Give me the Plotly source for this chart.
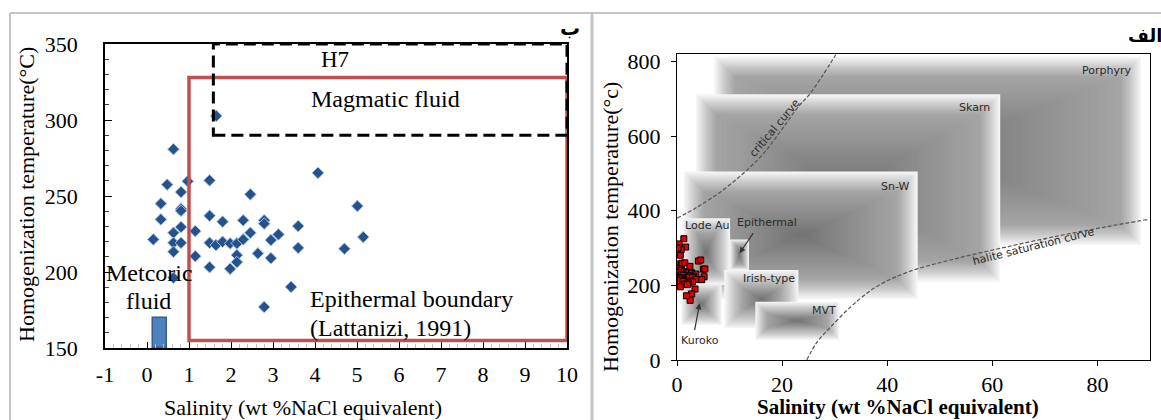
import plotly.graph_objects as go

W, H = 1161, 420

# ---------------- Left panel data (fluid inclusions, panel "ب") ----------------
salinity = [1.65, 0.63, 0.48, 0.81, 0.97, 1.49, 4.07, 2.46, 0.33, 0.81, 0.81, 5.01,
            0.33, 1.49, 1.80, 2.29, 2.79, 2.79, 0.63, 0.81, 1.15, 2.46, 3.60, 3.13,
            0.15, 0.63, 0.81, 1.49, 1.64, 1.80, 1.98, 2.14, 2.29, 2.95, 5.15, 0.63,
            3.60, 4.70, 2.64, 2.14, 1.15, 2.95, 2.14, 1.49, 1.98, 0.63, 3.43, 2.79]
temperature = [302.7, 280.8, 257.5, 252.6, 259.7, 260.3, 265.2, 251.1, 245.0, 241.6, 240.3, 243.4,
               234.6, 237.0, 233.1, 234.0, 234.0, 231.8, 225.8, 229.6, 226.9, 225.8, 230.2, 224.7,
               221.4, 219.2, 219.2, 219.2, 217.7, 219.9, 218.8, 218.8, 221.4, 221.0, 223.0, 213.3,
               215.9, 215.3, 212.2, 211.1, 210.4, 209.1, 206.5, 203.2, 202.1, 196.2, 190.2, 177.0]

meteoric_salinity = [0.15, 0.47]
meteoric_temp_top = 170
epithermal_box = dict(sal=[1.0, 10.0], temp=[155, 328])
magmatic_box = dict(sal=[1.58, 10.0], temp=[290, 350])

left_x_ticks = [-1, 0, 1, 2, 3, 4, 5, 6, 7, 8, 9, 10]
left_y_ticks = [150, 200, 250, 300, 350]

# ---------------- Right panel data (panel "الف") ----------------
deposit_names = ["Porphyry", "Skarn", "Sn-W", "Lode Au", "Epithermal", "Kuroko", "Irish-type", "MVT"]
deposit_sal = [[7.1, 88.3], [3.6, 61.5], [1.3, 45.8], [1.0, 10.1], [10.1, 13.7], [0.8, 8.5], [9.0, 23.1], [14.9, 30.9]]
deposit_temp = [[308, 813], [210, 712], [163, 505], [201, 380], [241, 323], [94, 206], [85, 241], [54, 156]]
deposit_label_pos = [[81.7, 776], [56.7, 676], [41.5, 466], [5.7, 360], [17.2, 368], [4.3, 51], [17.5, 219], [27.9, 132]]

critical_sal = [0, 4.0, 8.8, 13.0, 16.5, 19.9, 23.1, 25.1, 27.6, 30.2]
critical_temp = [380, 411, 456, 505, 554, 617, 679, 710, 760, 818]
halite_sal = [24.7, 26.5, 29.0, 33.1, 38.0, 44.2, 52.6, 63.0, 73.4, 81.7, 89.7]
halite_temp = [0, 45, 85, 143, 197, 237, 270, 304, 335, 357, 377]

extra_sal = [1.3, 0.4, 0.8, 4.5, 5.3, 2.5, 1.8, 0.2]
extra_temp = [325, 311, 296, 268, 244, 160, 172, 300]

right_x_ticks = [0, 20, 40, 60, 80]
right_y_ticks = [0, 200, 400, 600, 800]

# ---------------- layout geometry ----------------
L_X = [105 / W, 567 / W]
L_Y = [1 - 348 / H, 1 - 44 / H]
R_X = [677 / W, 1150 / W]
R_Y = [1 - 360 / H, 1 - 54 / H]
R_XR = [0, 90]
R_YR = [0, 820]

serif = "Liberation Serif"

fig = go.Figure()

# left panel traces
fig.add_trace(go.Bar(
    x=[(meteoric_salinity[0] + meteoric_salinity[1]) / 2], y=[meteoric_temp_top - 150], base=150,
    width=meteoric_salinity[1] - meteoric_salinity[0],
    marker=dict(color="#4f81bd", line=dict(color="#385d8a", width=1.5)),
    xaxis="x", yaxis="y", showlegend=False, hoverinfo="skip"))
fig.add_trace(go.Scatter(
    x=salinity, y=temperature, mode="markers", xaxis="x", yaxis="y",
    marker=dict(symbol="diamond", size=9, color="#24528f", line=dict(color="#a9c1e0", width=1)),
    showlegend=False))

# right panel traces
fig.add_trace(go.Scatter(x=critical_sal, y=critical_temp, mode="lines", xaxis="x2", yaxis="y2",
                         line=dict(color="#555555", width=1.2, dash="4px,2px", shape="spline"),
                         showlegend=False, hoverinfo="skip"))
fig.add_trace(go.Scatter(x=halite_sal, y=halite_temp, mode="lines", xaxis="x2", yaxis="y2",
                         line=dict(color="#555555", width=1.2, dash="4px,2px", shape="spline"),
                         showlegend=False, hoverinfo="skip"))
fig.add_trace(go.Scatter(
    x=salinity + extra_sal, y=temperature + extra_temp, mode="markers", xaxis="x2", yaxis="y2",
    marker=dict(symbol="square", size=6, color="#e00000", line=dict(color="black", width=1)),
    showlegend=False))

shapes = []

# soft gradient boxes (right panel): quick ramp at the edges, soft dark blob inside
px_x = (R_X[1] - R_X[0]) * W / (R_XR[1] - R_XR[0])
px_y = (R_Y[1] - R_Y[0]) * H / (R_YR[1] - R_YR[0])
M, K = 18, 24
for (x0, x1), (y0, y1) in zip(deposit_sal, deposit_temp):
    shapes.append(dict(type="rect", xref="x2", yref="y2", x0=x0, x1=x1, y0=y0, y1=y1,
                       fillcolor="#f5f5f5", line=dict(width=0), layer="below"))
    wpx = (x1 - x0) * px_x
    hpx = (y1 - y0) * px_y
    ramp = min(20.0, 0.3 * min(wpx, hpx))
    for k in range(1, M + 1):
        d = ramp * k / M
        shapes.append(dict(type="rect", xref="x2", yref="y2",
                           x0=x0 + d / px_x, x1=x1 - d / px_x, y0=y0 + d / px_y, y1=y1 - d / px_y,
                           fillcolor="rgba(0,0,0,0.02)", line=dict(width=0), layer="below"))
    ix0, ix1 = x0 + ramp / px_x, x1 - ramp / px_x
    iy0, iy1 = y0 + ramp / px_y, y1 - ramp / px_y
    cx, cy = (ix0 + ix1) / 2, (iy0 + iy1) / 2
    for k in range(1, K + 1):
        f = 0.95 * k / K
        hw = (ix1 - ix0) / 2 * (1 - f)
        hh = (iy1 - iy0) / 2 * (1 - f)
        shapes.append(dict(type="rect", xref="x2", yref="y2",
                           x0=cx - hw, x1=cx + hw, y0=cy - hh, y1=cy + hh,
                           fillcolor="rgba(0,0,0,0.01)", line=dict(width=0), layer="below"))

# left panel boxes
shapes.append(dict(type="rect", xref="x", yref="y",
                   x0=epithermal_box["sal"][0], x1=epithermal_box["sal"][1],
                   y0=epithermal_box["temp"][0], y1=epithermal_box["temp"][1],
                   line=dict(color="#c0504d", width=3.5)))
shapes.append(dict(type="rect", xref="x", yref="y",
                   x0=magmatic_box["sal"][0], x1=magmatic_box["sal"][1],
                   y0=magmatic_box["temp"][0], y1=magmatic_box["temp"][1],
                   line=dict(color="black", width=3, dash="12px,6px")))

# outer frame lines
frame_col = "#c4c4c4"
shapes.append(dict(type="line", xref="paper", yref="paper", x0=10 / W, x1=1, y0=1 - 13 / H, y1=1 - 13 / H,
                   line=dict(color=frame_col, width=2)))
shapes.append(dict(type="line", xref="paper", yref="paper", x0=10 / W, x1=10 / W, y0=0, y1=1 - 13 / H,
                   line=dict(color=frame_col, width=2)))
shapes.append(dict(type="line", xref="paper", yref="paper", x0=592 / W, x1=592 / W, y0=0, y1=1 - 13 / H,
                   line=dict(color=frame_col, width=3)))

ann = []
def txt(text, x, y, xref, yref, size, font=serif, color="black", xanchor="center", **kw):
    ann.append(dict(text=text, x=x, y=y, xref=xref, yref=yref, showarrow=False,
                    xanchor=xanchor, yanchor="middle",
                    font=dict(family=font, size=size, color=color), **kw))

# left panel texts
txt("H7", 4.48, 340, "x", "y", 23)
txt("Magmatic fluid", 5.67, 314, "x", "y", 24)
txt("Epithermal boundary", 3.83, 182, "x", "y", 24, xanchor="left")
txt("(Lattanizi, 1991)", 3.83, 163, "x", "y", 24, xanchor="left")
txt("Metcoric", 0.07, 199.5, "x", "y", 24)
txt("fluid", 0.04, 181, "x", "y", 24)
txt("Salinity (wt %NaCl equivalent)", 303 / W, 1 - 407 / H, "paper", "paper", 22)
txt("Homogenization temperature(°C)", 26 / W, 1 - 195 / H, "paper", "paper", 22, textangle=-90)
txt("<b>ب</b>", 570 / W, 1 - 28 / H, "paper", "paper", 20, font="DejaVu Sans")

# right panel texts
for name, (lx, ly) in zip(deposit_names, deposit_label_pos):
    txt(name, lx, ly, "x2", "y2", 11, font="DejaVu Sans", color="#2a2a2a")
txt("critical curve", 18.5, 621, "x2", "y2", 11, font="DejaVu Sans", color="#2a2a2a", textangle=-50)
txt("halite saturation curve", 67.8, 304, "x2", "y2", 11, font="DejaVu Sans", color="#2a2a2a", textangle=-14)
txt("<b>Salinity (wt %NaCl equivalent)</b>", 898 / W, 1 - 407 / H, "paper", "paper", 21)
txt("Homogenization temperature(°c)", 610 / W, 1 - 227 / H, "paper", "paper", 22, textangle=-90)
txt("<b>الف</b>", 1145 / W, 1 - 35 / H, "paper", "paper", 18, font="DejaVu Sans")

# arrows
for tip, tail in [((11.9, 286), (14.7, 344)), ((4.3, 152), (3.3, 76))]:
    ann.append(dict(x=tip[0], y=tip[1], ax=tail[0], ay=tail[1], xref="x2", yref="y2",
                    axref="x2", ayref="y2", text="", showarrow=True, arrowhead=2,
                    arrowsize=1, arrowwidth=1.2, arrowcolor="#333333"))

axis_common = dict(showline=True, linecolor="black", mirror=True, showgrid=False, zeroline=False,
                   automargin=False, tickfont=dict(family=serif, size=22, color="black"))

fig.update_layout(
    width=W, height=H, margin=dict(l=0, r=0, t=0, b=0),
    paper_bgcolor="white", plot_bgcolor="white",
    shapes=shapes, annotations=ann, bargap=0,
    xaxis=dict(domain=L_X, range=[-1, 10], tickvals=left_x_ticks,
               ticktext=[str(v) for v in left_x_ticks], ticks="inside", ticklen=6,
               tickcolor="black", linewidth=1.5, ticklabelstandoff=6,
               minor=dict(ticks="inside", dtick=0.2, ticklen=4, tickcolor="#bbbbbb"),
               anchor="y", **axis_common),
    yaxis=dict(domain=L_Y, range=[150, 350], tickvals=left_y_ticks, ticks="inside", ticklen=7,
               tickcolor="black", linewidth=1.5, ticklabelstandoff=21,
               minor=dict(ticks="inside", dtick=10, ticklen=4, tickcolor="#444444"),
               anchor="x", **axis_common),
    xaxis2=dict(domain=R_X, range=R_XR, tickvals=right_x_ticks, ticks="outside", ticklen=5,
                tickcolor="black", linewidth=1, ticklabelstandoff=0, anchor="y2", **axis_common),
    yaxis2=dict(domain=R_Y, range=R_YR, tickvals=right_y_ticks, ticks="outside", ticklen=5,
                tickcolor="black", linewidth=1, ticklabelstandoff=6, anchor="x2", **axis_common),
)

fig.write_html("out.html")
